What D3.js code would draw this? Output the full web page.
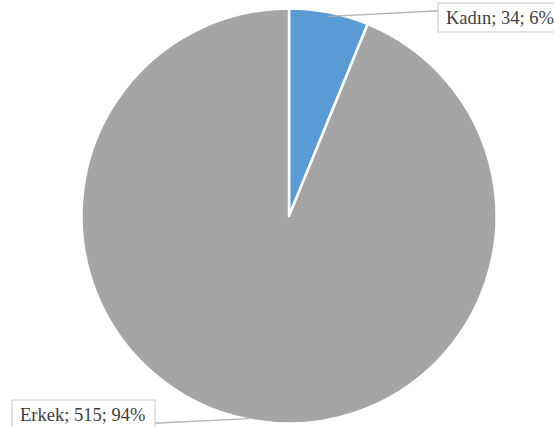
<!DOCTYPE html>
<html>
<head>
<meta charset="utf-8">
<script src="https://cdn.jsdelivr.net/npm/d3@7"></script>
<style>
html,body{margin:0;padding:0;background:#fff;}
svg{display:block;}
</style>
</head>
<body>
<svg id="chart" width="554" height="427"></svg>
<script>
const categories = ["Kadın", "Erkek"];
const values = [34, 515];
const percents = ["6%", "94%"];
const colors = ["#5B9BD5", "#A5A5A5"];

const W = 554, H = 427;
const cx = 289, cy = 216, R = 207.5;
const svg = d3.select("#chart");
const g = svg.append("g").attr("transform", `translate(${cx},${cy})`);

const pie = d3.pie().sort(null).value(d => d)(values);
const arc = d3.arc().innerRadius(0).outerRadius(R);

g.selectAll("path.slice").data(pie).enter().append("path")
  .attr("class", "slice")
  .attr("d", arc)
  .attr("fill", (d, i) => colors[i])
  .attr("stroke", "#fff")
  .attr("stroke-width", 2.5)
  .attr("stroke-linejoin", "round");

// label boxes (layout in absolute coords)
const boxes = [
  {x: 438, y: 3, w: 130, h: 29, side: "right"},
  {x: 12, y: 400, w: 143, h: 30, side: "left"}
];
const fontSize = 18.5;

pie.forEach((d, i) => {
  const mid = (d.startAngle + d.endAngle) / 2;
  const px = cx + Math.sin(mid) * (R - 1);
  const py = cy - Math.cos(mid) * (R - 1);
  const b = boxes[i];
  const ax = b.side === "right" ? b.x : b.x + b.w;
  const ay = b.side === "right" ? b.y + 8 : b.y + 23;
  const ex = b.side === "right" ? b.x - 4 : b.x + b.w + 3;
  svg.append("path")
    .attr("d", d3.line()([[px, py + (i === 0 ? 3 : 0)], [ex, ay], [ax, ay]]))
    .attr("fill", "none")
    .attr("stroke", "#B5B5B5")
    .attr("stroke-width", 1.3);
  svg.append("rect")
    .attr("x", b.x).attr("y", b.y).attr("width", b.w).attr("height", b.h)
    .attr("fill", "#fff").attr("stroke", "#D0D0D0").attr("stroke-width", 1.2);
  svg.append("text")
    .attr("x", b.x + 8).attr("y", b.y + 21)
    .attr("font-family", "'Liberation Serif', 'Times New Roman', serif")
    .attr("font-size", fontSize)
    .attr("fill", "#404040")
    .text(`${categories[i]}; ${values[i]}; ${percents[i]}`);
});
</script>
</body>
</html>
